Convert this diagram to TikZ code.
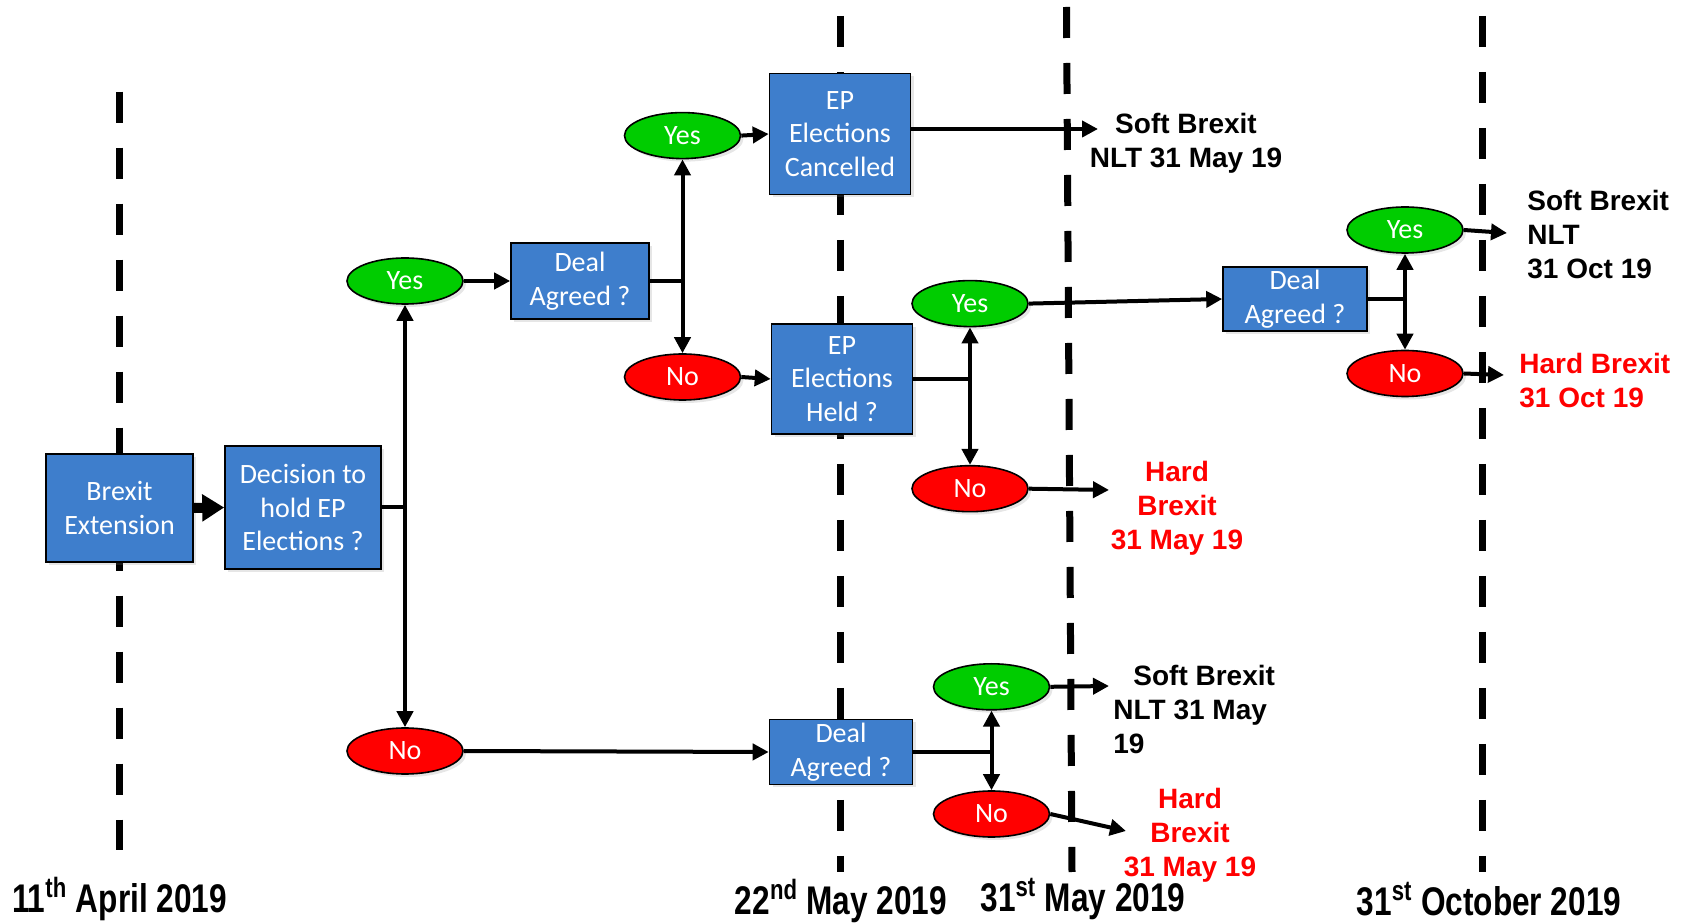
\documentclass[tikz,border=0pt]{standalone}
\usepackage{fontspec}
\setmainfont{Carlito}
\newfontfamily\arialfont{Liberation Sans}
\usetikzlibrary{arrows.meta, shapes.geometric, shadows}
\usepackage{xcolor}
\definecolor{boxblue}{RGB}{62,126,204}
\definecolor{yesgreen}{RGB}{0,204,0}
\definecolor{nored}{RGB}{255,0,0}

\begin{document}
\begin{tikzpicture}[x=0.5pt, y=-0.5pt,
  timeline/.style={line width=3.5pt, dash pattern=on 15.5pt off 12.5pt},
  box/.style={rectangle, draw=black, line width=0.8pt, fill=boxblue, text=white,
    align=center, inner sep=0pt, font=\fontsize{14}{16.7}\selectfont,
    drop shadow={opacity=0.2, shadow xshift=1.5pt, shadow yshift=-1.5pt}},
  choice/.style={ellipse, draw=black, line width=0.8pt, text=white, inner sep=0pt,
    minimum width=58pt, minimum height=23pt, font=\fontsize{14}{16.7}\selectfont,
    drop shadow={opacity=0.2, shadow xshift=1.5pt, shadow yshift=-1.5pt}},
  yes/.style={choice, fill=yesgreen},
  no/.style={choice, fill=nored},
  arr/.style={line width=2pt, -{Triangle[length=8pt, width=8pt]}},
  twoway/.style={line width=2pt, {Triangle[length=8pt, width=8pt]}-{Triangle[length=8pt, width=8pt]}},
  stub/.style={line width=2pt},
  outcome/.style={inner sep=0pt, font=\arialfont\bfseries\fontsize{14}{17}\selectfont},
  datelabel/.style={inner sep=0pt, font=\arialfont\bfseries\fontsize{20}{22}\selectfont}
]
  \useasboundingbox (0,0) rectangle (1688,924);

  % timelines
  \draw[timeline] (119.5,91.7) -- (119.5,850);
  \draw[timeline] (840,16) -- (840,872);
  \draw[timeline] (1066.5,7) -- (1072,872);
  \draw[timeline] (1482,16) -- (1482,872);

  % decision boxes
  \node[box, minimum width=73.5pt, minimum height=54pt] (BrexitExt) at (119.5,508) {Brexit\\Extension};
  \node[box, minimum width=78pt, minimum height=61.5pt] (HoldEP) at (303,507.5) {Decision to\\hold EP\\Elections ?};
  \node[box, minimum width=69pt, minimum height=38pt] (DealA) at (580,281) {Deal\\Agreed ?};
  \node[box, minimum width=70.5pt, minimum height=60.5pt] (EPCancelled) at (840,134) {EP\\Elections\\Cancelled};
  \node[box, minimum width=70.5pt, minimum height=55pt] (EPHeld) at (842,379) {EP\\Elections\\Held ?};
  \node[box, minimum width=72pt, minimum height=32pt] (DealB) at (1295,299) {Deal\\Agreed ?};
  \node[box, minimum width=71.5pt, minimum height=32.5pt] (DealC) at (841,752) {Deal\\Agreed ?};

  % yes / no answers
  \node[yes] (YesA) at (405,281) {Yes};
  \node[no] (NoA) at (405,751) {No};
  \node[yes] (YesB) at (682.5,135.6) {Yes};
  \node[no] (NoB) at (682.5,377) {No};
  \node[yes] (YesC) at (970,303.6) {Yes};
  \node[no] (NoC) at (970,488.7) {No};
  \node[yes] (YesD) at (1405,230) {Yes};
  \node[no] (NoD) at (1405,373.5) {No};
  \node[yes] (YesE) at (991.5,686.8) {Yes};
  \node[no] (NoE) at (991.5,814) {No};

  % outcomes
  \node[outcome, align=center] (SoftMayA) at (1186,143) {Soft Brexit\\NLT 31 May 19};
  \node[outcome, align=left, anchor=west] (SoftOct) at (1527,235) {Soft Brexit\\NLT\\31 Oct 19};
  \node[outcome, align=left, anchor=west, text=nored] (HardOct) at (1519,381) {Hard Brexit\\31 Oct 19};
  \node[outcome, align=center, text=nored] (HardMayA) at (1177,508) {Hard\\Brexit\\31 May 19};
  \node[outcome, align=left, anchor=west] (SoftMayB) at (1113,709) {\hspace{10pt}Soft Brexit\\NLT 31 May\\19};
  \node[outcome, align=center, text=nored] (HardMayB) at (1190,835) {Hard\\Brexit\\31 May 19};

  % dates
  \node[datelabel] (DateApr) at (119.5,899) {\scalebox{0.79}[1]{11\textsuperscript{th} April 2019}};
  \node[datelabel] (DateMay22) at (841,901) {\scalebox{0.79}[1]{22\textsuperscript{nd} May 2019}};
  \node[datelabel] (DateMay31) at (1083,899) {\scalebox{0.79}[1]{31\textsuperscript{st} May 2019}};
  \node[datelabel] (DateOct) at (1489,899) {\scalebox{0.79}[1]{31\textsuperscript{st} October 2019}};

  % free arrow ends
  \coordinate (TipSoftMayA) at (1098,129);
  \coordinate (TipHardMayA) at (1109,490);
  \coordinate (TipSoftOct) at (1507,233);
  \coordinate (TipHardOct) at (1504,375);
  \coordinate (TipSoftMayB) at (1109,686);
  \coordinate (TipHardMayB) at (1126,831);

  % connectors
  \draw[line width=5pt, -{Triangle[length=11pt, width=13pt]}] (BrexitExt.east) -- (HoldEP.west);
  \draw[stub] (HoldEP.east) -- (HoldEP.east -| YesA);
  \draw[twoway] (YesA.south) -- (NoA.north);
  \draw[arr] (YesA.east) -- (DealA.west);
  \draw[arr] (NoA.east) -- (DealC.west);

  \draw[stub] (DealA.east) -- (DealA.east -| YesB);
  \draw[twoway] (YesB.south) -- (NoB.north);
  \draw[arr] (YesB.east) -- (EPCancelled.west);
  \draw[arr] (NoB.east) -- (EPHeld.west);
  \draw[arr] (EPCancelled.east |- TipSoftMayA) -- (TipSoftMayA);

  \draw[stub] (EPHeld.east) -- (EPHeld.east -| YesC);
  \draw[twoway] (YesC.south) -- (NoC.north);
  \draw[arr] (YesC.east) -- (DealB.west);
  \draw[arr] (NoC.east) -- (TipHardMayA);

  \draw[stub] (DealB.east) -- (DealB.east -| YesD);
  \draw[twoway] (YesD.south) -- (NoD.north);
  \draw[arr] (YesD.east) -- (TipSoftOct);
  \draw[arr] (NoD.east) -- (TipHardOct);

  \draw[stub] (DealC.east) -- (DealC.east -| YesE);
  \draw[twoway] (YesE.south) -- (NoE.north);
  \draw[arr] (YesE.east) -- (TipSoftMayB);
  \draw[arr] (NoE.east) -- (TipHardMayB);
\end{tikzpicture}
\end{document}
